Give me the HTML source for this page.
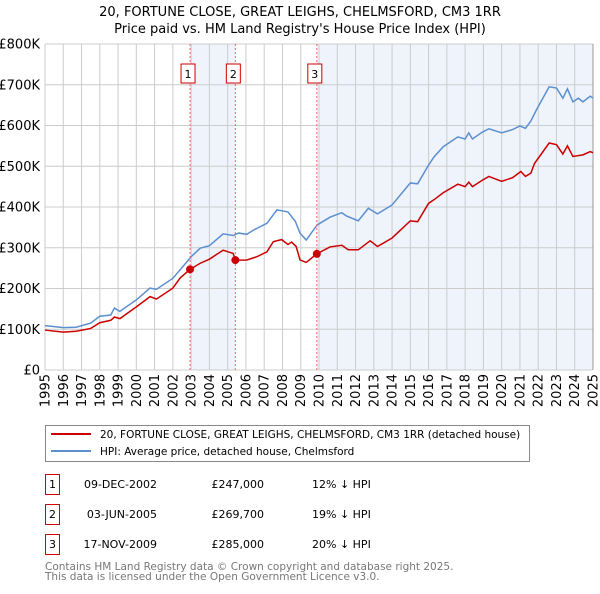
<!DOCTYPE html>
<html><head><meta charset="utf-8"><style>
body{margin:0;background:#fff;font-family:"DejaVu Sans","Liberation Sans",sans-serif;}
svg text{font-family:"DejaVu Sans","Liberation Sans",sans-serif;}
</style></head><body>
<svg id="chart" width="600" height="590" viewBox="0 0 600 590" xmlns="http://www.w3.org/2000/svg">
<text x="300" y="16" font-size="13" text-anchor="middle">20, FORTUNE CLOSE, GREAT LEIGHS, CHELMSFORD, CM3 1RR</text>
<text x="300" y="33" font-size="13" text-anchor="middle">Price paid vs. HM Land Registry's House Price Index (HPI)</text>
<g id="shade"></g><g id="grid"></g><g id="axes"></g><g id="series"></g><g id="marks"></g>
<g>
<rect x="45.5" y="425.5" width="484" height="36" fill="#fff" stroke="#888"/>
<line x1="51" y1="434" x2="91" y2="434" stroke="#cc0000" stroke-width="2"/>
<text x="100" y="438" font-size="10.5">20, FORTUNE CLOSE, GREAT LEIGHS, CHELMSFORD, CM3 1RR (detached house)</text>
<line x1="51" y1="451" x2="91" y2="451" stroke="#5b8fd0" stroke-width="2"/>
<text x="100" y="455" font-size="10.5">HPI: Average price, detached house, Chelmsford</text>
</g>
<g id="table" font-size="11"></g>
<text x="45" y="570" font-size="10.5" fill="#777">Contains HM Land Registry data © Crown copyright and database right 2025.</text>
<text x="45" y="580" font-size="10.5" fill="#777">This data is licensed under the Open Government Licence v3.0.</text>
</svg>
<script>
const hpiYears=[1995,1996,1996.7,1997.5,1998,1998.6,1998.8,1999.1,2000,2000.75,2001.1,2002,2003,2003.5,2004,2004.75,2005.3,2005.6,2006.05,2006.4,2007.15,2007.7,2008.05,2008.3,2008.7,2008.96,2009.3,2009.9,2010.6,2011.25,2011.5,2012.15,2012.7,2013.2,2014,2015,2015.4,2016,2016.3,2016.8,2017.6,2018,2018.2,2018.4,2018.95,2019.3,2020,2020.6,2021,2021.3,2021.6,2021.9,2022.6,2023,2023.35,2023.6,2023.9,2024.2,2024.45,2024.85,2025];
const hpiValues=[109,104,105,115,132,135,152,144,172,201,198,225,278,299,305,334,330,336,333,343,360,393,390,388,365,336,319,356,375,386,378,366,397,383,405,459,457,503,523,548,572,567,582,567,584,592,582,590,599,593,611,638,695,692,667,690,658,667,658,672,667];
const ppYears=[1995,1996,1996.7,1997.5,1998,1998.6,1998.8,1999.1,2000,2000.75,2001.1,2002,2002.4,2002.94,2003.5,2004,2004.75,2005.3,2005.42,2006.05,2006.6,2007.15,2007.5,2007.95,2008.3,2008.5,2008.75,2008.96,2009.3,2009.88,2010.6,2011.25,2011.6,2012.15,2012.8,2013.2,2014,2015,2015.4,2016,2016.3,2016.8,2017.6,2018,2018.2,2018.4,2018.95,2019.3,2020,2020.6,2021.05,2021.3,2021.6,2021.8,2022.6,2023,2023.35,2023.6,2023.9,2024.45,2024.85,2025];
const ppValues=[98,93,95,102,116,122,130,126,155,180,174,201,226,247,262,272,294,286,269.7,270,278,290,315,320,308,314,303,270,264,285,302,306,295,295,317,303,324,366,364,409,418,435,456,450,461,450,466,475,463,472,487,475,483,507,557,553,530,550,524,528,536,533];
const sales=[{n:"1",year:2002.94,value:247,date:"09-DEC-2002",price:"£247,000",diff:"12% ↓ HPI"},{n:"2",year:2005.42,value:269.7,date:"03-JUN-2005",price:"£269,700",diff:"19% ↓ HPI"},{n:"3",year:2009.88,value:285,date:"17-NOV-2009",price:"£285,000",diff:"20% ↓ HPI"}];
const yTicks=[0,100,200,300,400,500,600,700,800];
const yTickLabels=["£0","£100K","£200K","£300K","£400K","£500K","£600K","£700K","£800K"];
const xTicks=[1995,1996,1997,1998,1999,2000,2001,2002,2003,2004,2005,2006,2007,2008,2009,2010,2011,2012,2013,2014,2015,2016,2017,2018,2019,2020,2021,2022,2023,2024,2025];

const X0=45,X1=593,Y0=370,Y1=44;
const sx=y=>X0+(y-1995)/30*(X1-X0);
const sy=v=>Y0-v/800*(Y0-Y1);
const NS="http://www.w3.org/2000/svg";
function mk(parent,tag,attrs){const e=document.createElementNS(NS,tag);for(const k in attrs)e.setAttribute(k,attrs[k]);document.getElementById(parent).appendChild(e);return e;}

let e;
e=mk("shade","rect",{x:sx(sales[0].year),y:Y1,width:sx(sales[1].year)-sx(sales[0].year),height:Y0-Y1,fill:"#eef3fc"});


e=mk("shade","rect",{x:sx(sales[2].year),y:Y1,width:X1-sx(sales[2].year),height:Y0-Y1,fill:"#eef3fc"});



xTicks.forEach(t=>{
 e=mk("grid","line",{x1:sx(t),x2:sx(t),y1:Y1,y2:Y0,stroke:"#cccccc","stroke-width":1});
 
 
 e=mk("axes","text",{x:0,y:0,"font-size":13,"text-anchor":"end",transform:`translate(${sx(t)+4.5},374) rotate(-90)`});
 e.textContent=t;
 
 
});
yTicks.forEach((t,i)=>{
 e=mk("grid","line",{x1:X0,x2:X1,y1:sy(t),y2:sy(t),stroke:"#cccccc","stroke-width":1});
 
 
 e=mk("axes","text",{x:40,y:sy(t)+4.5,"font-size":13,"text-anchor":"end"});
 e.textContent=yTickLabels[i];
 
 
});

e=mk("series","polyline",{points:hpiYears.map((y,i)=>sx(y)+","+sy(hpiValues[i])).join(" "),fill:"none",stroke:"#5b8fd0","stroke-width":1.5});


e=mk("series","polyline",{points:ppYears.map((y,i)=>sx(y)+","+sy(ppValues[i])).join(" "),fill:"none",stroke:"#cc0000","stroke-width":1.5});



sales.forEach((s,i)=>{
 const x=sx(s.year);
 e=mk("marks","line",{x1:x,x2:x,y1:Y1,y2:Y0,stroke:"#ff6666","stroke-width":1,"stroke-dasharray":"2,2"});
 
 
 e=mk("marks","rect",{x:x-9,y:64,width:14,height:19,fill:"#fff",stroke:"#cc0000"});
 
 
 e=mk("marks","text",{x:x-2,y:78,"font-size":11,"text-anchor":"middle"});
 e.textContent=s.n;
 
 
 e=mk("marks","circle",{cx:x,cy:sy(s.value),r:4,fill:"#cc0000"});
 
 
 const ry=475+i*30;
 e=mk("table","rect",{x:45.5,y:ry-0.5,width:14,height:20,fill:"#fff",stroke:"#cc0000"});
 
 
 e=mk("table","text",{x:52.5,y:ry+13,"text-anchor":"middle"});
 e.textContent=s.n;
 
 
 e=mk("table","text",{x:157,y:ry+13,"text-anchor":"end"});
 e.textContent=s.date;
 
 
 e=mk("table","text",{x:264,y:ry+13,"text-anchor":"end"});
 e.textContent=s.price;
 
 
 e=mk("table","text",{x:312,y:ry+13});
 e.textContent=s.diff;
 
 
});
e=mk("axes","line",{x1:X1,x2:X1,y1:Y1,y2:Y0,stroke:"#999"});


</script>
</body></html>
